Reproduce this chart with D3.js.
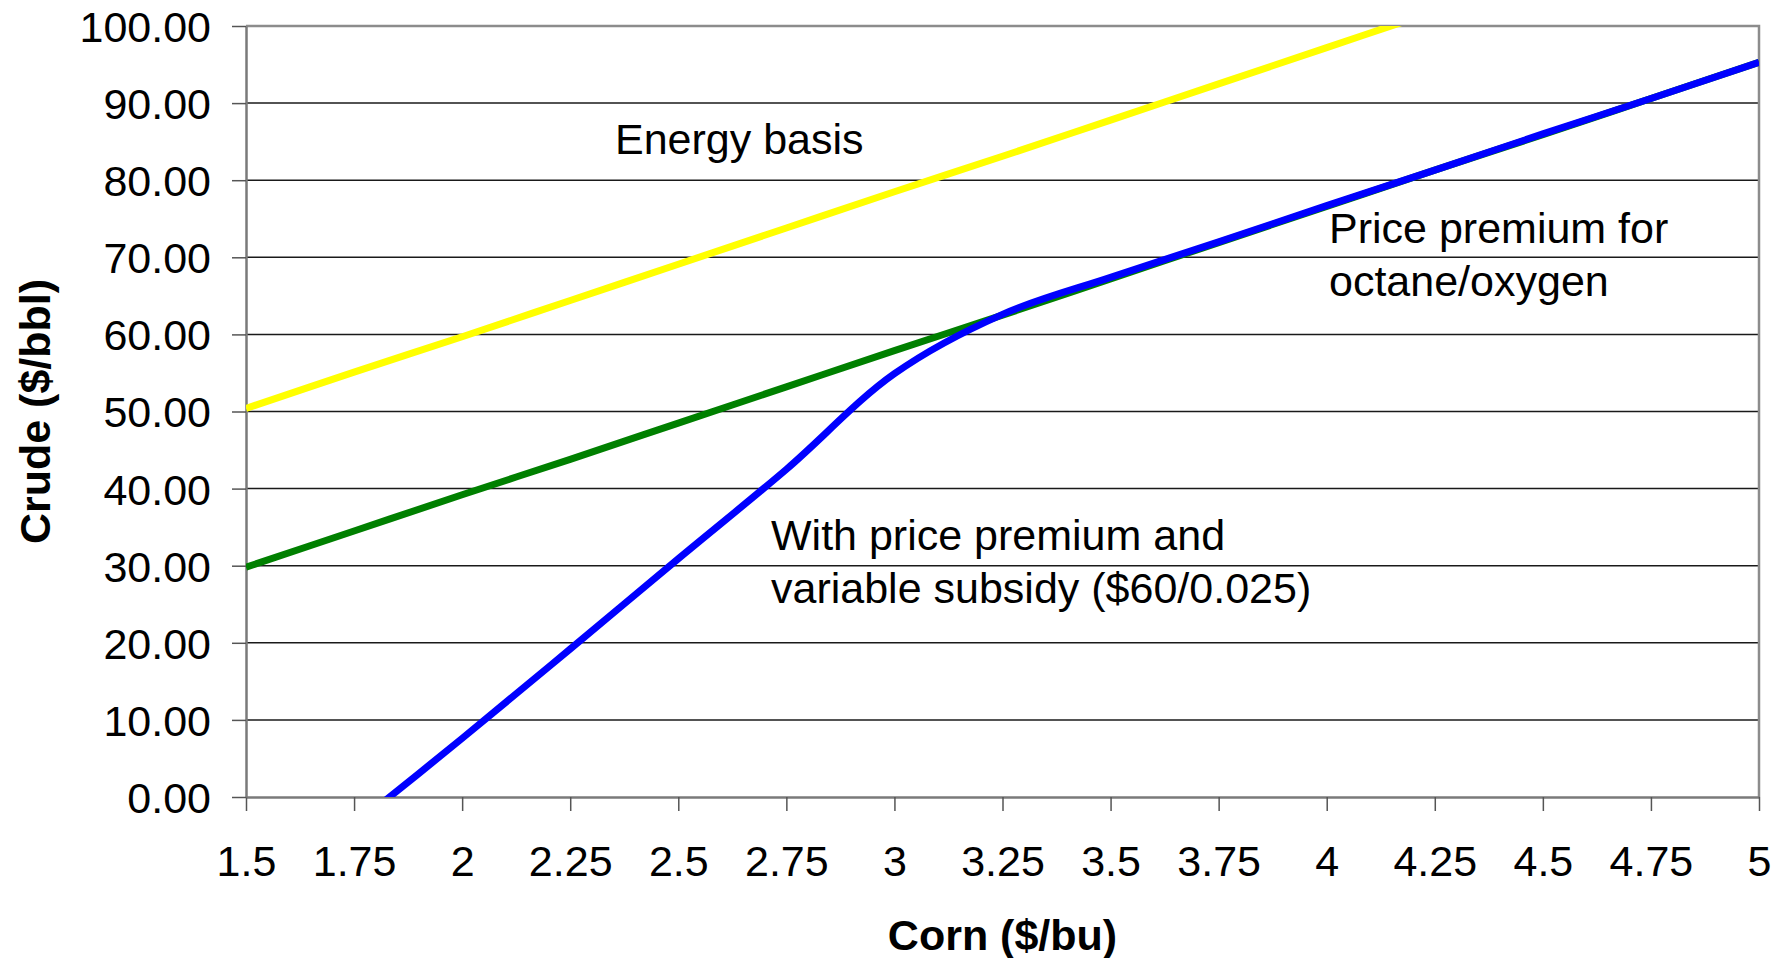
<!DOCTYPE html>
<html>
<head>
<meta charset="utf-8">
<script src="https://cdn.jsdelivr.net/npm/d3@7"></script>
<style>
  body { margin: 0; background: #fff; }
  text { font-family: "Liberation Sans", Arial, sans-serif; fill: #000; }
  .tick-label { font-size: 43px; }
  .axis-title { font-size: 43px; font-weight: bold; }
  .note { font-size: 43px; }
</style>
</head>
<body>
<div id="chart"></div>
<script>
// Corn price ($/bu) on the x axis
const corn = [1.5, 1.75, 2, 2.25, 2.5, 2.75, 3, 3.25, 3.5, 3.75, 4, 4.25, 4.5, 4.75, 5];

// Crude price ($/bbl) for each series
const energyBasis = [50.4, 55.1, 59.7, 64.4, 69.1, 73.8, 78.5, 83.1, 87.8, 92.5, 97.2, 101.9, 106.5, 111.2, 115.9];
const pricePremium = [29.8, 34.5, 39.2, 43.8, 48.5, 53.2, 57.9, 62.5, 67.2, 71.9, 76.6, 81.3, 85.9, 90.6, 95.3];
const withSubsidy = [null, -3.7, 7.6, 19.2, 30.9, 42.5, 54.9, 62.6, 67.4, 72.0, 76.7, 81.3, 86.0, 90.6, 95.3];

const xTicks = [1.5, 1.75, 2, 2.25, 2.5, 2.75, 3, 3.25, 3.5, 3.75, 4, 4.25, 4.5, 4.75, 5];
const yTicks = [0, 10, 20, 30, 40, 50, 60, 70, 80, 90, 100];

const W = 1788, H = 958;
const margin = { top: 26, right: 29, bottom: 161, left: 246 };
const width = W - margin.left - margin.right;
const height = H - margin.top - margin.bottom;

const svg = d3.select("#chart").append("svg")
  .attr("width", W)
  .attr("height", H);

const x = d3.scaleLinear().domain([1.5, 5]).range([0, width]);
const y = d3.scaleLinear().domain([0, 100]).range([height, 0]);

svg.append("defs").append("clipPath").attr("id", "plot-clip")
  .append("rect").attr("width", width).attr("height", height);

const g = svg.append("g").attr("transform", `translate(${margin.left},${margin.top})`);

// horizontal gridlines
g.append("g")
  .selectAll("line")
  .data(yTicks.filter(d => d > 0 && d < 100))
  .enter().append("line")
  .attr("x1", 0).attr("x2", width)
  .attr("y1", d => y(d)).attr("y2", d => y(d))
  .attr("stroke", "#1a1a1a")
  .attr("stroke-width", 1.5);

// plot frame top / right (grey)
g.append("path")
  .attr("d", `M0,${y(100)}H${width}V${height}`)
  .attr("fill", "none")
  .attr("stroke", "#8c8c8c")
  .attr("stroke-width", 2.5);

// axes
const xAxis = g.append("g")
  .attr("transform", `translate(0,${height})`)
  .call(d3.axisBottom(x).tickValues(xTicks).tickSize(14).tickSizeOuter(0).tickFormat(d => d3.format("")(d)));
xAxis.selectAll("text").attr("class", "tick-label").attr("dy", null).attr("y", 79);

const yAxis = g.append("g")
  .call(d3.axisLeft(y).tickValues(yTicks).tickSize(14).tickSizeOuter(0).tickFormat(d3.format(".2f")));
yAxis.selectAll("text").attr("class", "tick-label").attr("x", -35).attr("dy", "0.36em");

[xAxis, yAxis].forEach(a => {
  a.attr("font-family", null).attr("font-size", null);
  a.select(".domain").attr("stroke", "#7a7a7a").attr("stroke-width", 2.5);
  a.selectAll(".tick line").attr("stroke", "#555").attr("stroke-width", 1.5);
});

// series
const line = d3.line()
  .defined(d => d[1] !== null)
  .x(d => x(d[0]))
  .y(d => y(d[1]))
  .curve(d3.curveCatmullRom.alpha(0.5));

const series = [
  { values: energyBasis, color: "#ffff00" },
  { values: pricePremium, color: "#008000" },
  { values: withSubsidy, color: "#0000ff" }
];

const lines = g.append("g").attr("clip-path", "url(#plot-clip)");
series.forEach(s => {
  lines.append("path")
    .datum(corn.map((c, i) => [c, s.values[i]]))
    .attr("d", line)
    .attr("fill", "none")
    .attr("stroke", s.color)
    .attr("stroke-width", 7)
    .attr("stroke-linejoin", "round");
});

// annotations
const notes = [
  { lines: ["Energy basis"], x: 615 - margin.left, y: 154 - margin.top },
  { lines: ["Price premium for", "octane/oxygen"], x: 1329 - margin.left, y: 243 - margin.top },
  { lines: ["With price premium and", "variable subsidy ($60/0.025)"], x: 771 - margin.left, y: 550 - margin.top }
];
notes.forEach(n => {
  const t = g.append("text").attr("class", "note").attr("x", n.x).attr("y", n.y);
  n.lines.forEach((l, i) => {
    t.append("tspan").attr("x", n.x).attr("dy", i === 0 ? 0 : 53).text(l);
  });
});

// axis titles
svg.append("text")
  .attr("class", "axis-title")
  .attr("x", margin.left + width / 2)
  .attr("y", 950)
  .attr("text-anchor", "middle")
  .text("Corn ($/bu)");

svg.append("text")
  .attr("class", "axis-title")
  .attr("transform", `translate(50,${margin.top + height / 2}) rotate(-90)`)
  .attr("text-anchor", "middle")
  .text("Crude ($/bbl)");
</script>
</body>
</html>
